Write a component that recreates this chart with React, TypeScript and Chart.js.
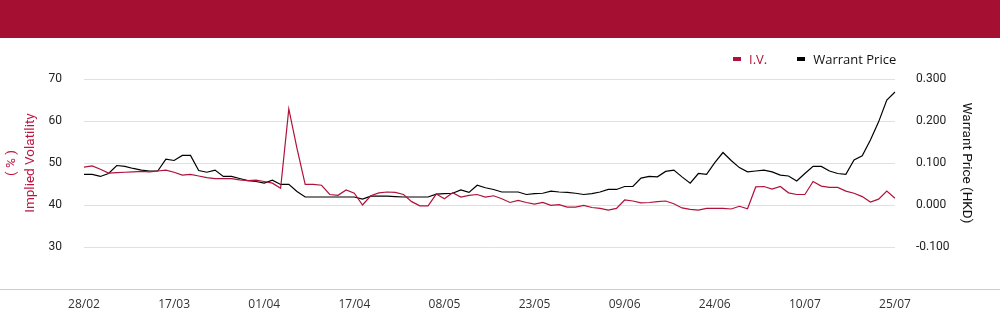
import React, { useEffect, useRef } from "react";
import { Chart, registerables } from "chart.js";

Chart.register(...registerables);

const dates: string[] = [
  "28/02", "03/03", "04/03", "05/03", "06/03", "07/03", "10/03", "11/03", "12/03", "13/03", "14/03",
  "17/03", "18/03", "19/03", "20/03", "21/03", "24/03", "25/03", "26/03", "27/03", "28/03", "31/03",
  "01/04", "02/04", "03/04", "07/04", "08/04", "09/04", "10/04", "11/04", "14/04", "15/04", "16/04",
  "17/04", "22/04", "23/04", "24/04", "25/04", "28/04", "29/04", "30/04", "02/05", "06/05", "07/05",
  "08/05", "09/05", "12/05", "13/05", "14/05", "15/05", "16/05", "19/05", "20/05", "21/05", "22/05",
  "23/05", "26/05", "27/05", "28/05", "29/05", "30/05", "02/06", "03/06", "04/06", "05/06", "06/06",
  "09/06", "10/06", "11/06", "12/06", "13/06", "16/06", "17/06", "18/06", "19/06", "20/06", "23/06",
  "24/06", "25/06", "26/06", "27/06", "30/06", "02/07", "03/07", "04/07", "07/07", "08/07", "09/07",
  "10/07", "11/07", "14/07", "15/07", "16/07", "17/07", "18/07", "21/07", "22/07", "23/07", "24/07",
  "25/07",
];

const impliedVolatility: number[] = [
  49.0, 49.3, 48.5, 47.6, 47.7, 47.8, 47.9, 48.0, 47.9, 48.1,
  48.3, 47.8, 47.1, 47.3, 46.9, 46.5, 46.3, 46.3, 46.3, 46.0,
  45.8, 45.9, 45.6, 45.2, 44.0, 62.9, 53.5, 44.9, 44.9, 44.7,
  42.5, 42.3, 43.6, 42.8, 40.0, 42.2, 42.9, 43.1, 43.0, 42.5,
  40.8, 39.8, 39.8, 42.6, 41.5, 42.9, 41.9, 42.3, 42.5, 41.9,
  42.2, 41.5, 40.6, 41.1, 40.6, 40.2, 40.6, 39.9, 40.1, 39.5,
  39.5, 39.9, 39.4, 39.2, 38.8, 39.2, 41.2, 40.95, 40.5, 40.6,
  40.8, 40.95, 40.3, 39.3, 38.97, 38.8, 39.2, 39.2, 39.2, 39.05,
  39.7, 39.1, 44.3, 44.4, 43.8, 44.4, 42.9, 42.5, 42.5, 45.6,
  44.5, 44.2, 44.2, 43.3, 42.8, 42.0, 40.7, 41.4, 43.3, 41.6,
];

const warrantPrice: number[] = [
  0.073, 0.073, 0.068, 0.075, 0.094, 0.092, 0.087, 0.083, 0.081, 0.081,
  0.109, 0.106, 0.118, 0.118, 0.082, 0.078, 0.083, 0.068, 0.068, 0.063,
  0.058, 0.056, 0.052, 0.059, 0.049, 0.049, 0.032, 0.019, 0.019, 0.019,
  0.019, 0.019, 0.019, 0.019, 0.014, 0.021, 0.021, 0.021, 0.020, 0.019,
  0.019, 0.019, 0.019, 0.026, 0.027, 0.028, 0.036, 0.030, 0.047, 0.041,
  0.037, 0.031, 0.031, 0.031, 0.025, 0.027, 0.028, 0.033, 0.031, 0.030,
  0.028, 0.025, 0.027, 0.031, 0.037, 0.037, 0.044, 0.044, 0.064, 0.068,
  0.067, 0.080, 0.083, 0.067, 0.052, 0.075, 0.073, 0.101, 0.125, 0.106,
  0.089, 0.079, 0.081, 0.083, 0.079, 0.071, 0.069, 0.057, 0.075, 0.092,
  0.092, 0.081, 0.075, 0.073, 0.107, 0.117, 0.155, 0.198, 0.250, 0.269,
];

const leftTicks: number[] = [30, 40, 50, 60, 70];
const rightTicks: number[] = [-0.1, 0, 0.1, 0.2, 0.3];
const labelEvery = 11;
const legendItems: { label: string; color: string; textColor: string }[] = [
  { label: "I.V.", color: "#AE1137", textColor: "#AE1137" },
  { label: "Warrant Price", color: "#000000", textColor: "#111111" },
];

const RED = "#B0123A";
const HEADER = "#A50F32";

const baselinePlugin = {
  id: "fullBaseline",
  afterDraw(chart: any) {
    const ctx = chart.ctx;
    const y = Math.round(chart.scales.y.getPixelForValue(20)) + 0.5;
    ctx.save();
    ctx.strokeStyle = "#cccccc";
    ctx.lineWidth = 1;
    ctx.beginPath();
    ctx.moveTo(0, y);
    ctx.lineTo(chart.width, y);
    ctx.stroke();
    ctx.restore();
  },
};

export default function App() {
  const canvasRef = useRef<HTMLCanvasElement>(null);

  useEffect(() => {
    document.body.style.margin = "0";
    const canvas = canvasRef.current;
    if (!canvas) return;
    const chart = new Chart(canvas, {
      type: "line",
      data: {
        labels: dates,
        datasets: [
          {
            label: "I.V.",
            data: impliedVolatility,
            borderColor: RED,
            backgroundColor: RED,
            borderWidth: 1.2,
            pointRadius: 0,
            tension: 0,
            yAxisID: "y",
          },
          {
            label: "Warrant Price",
            data: warrantPrice,
            borderColor: "#000000",
            backgroundColor: "#000000",
            borderWidth: 1.2,
            pointRadius: 0,
            tension: 0,
            yAxisID: "y1",
          },
        ],
      },
      options: {
        responsive: false,
        animation: false,
        layout: { padding: { top: 41, bottom: 0, left: 0, right: 0 } },
        plugins: {
          legend: { display: false },
          tooltip: { enabled: false },
        },
        scales: {
          x: {
            type: "category",
            grid: { display: false, drawTicks: false },
            border: { display: false },
            ticks: {
              autoSkip: false,
              maxRotation: 0,
              padding: 50,
              color: "#333333",
              font: { family: "'Open Sans', sans-serif", size: 12 },
              callback: (_v: any, i: number) => (i % labelEvery === 0 ? dates[i] : ""),
            },
            afterFit: (scale: any) => {
              scale.height = 77;
            },
          },
          y: {
            type: "linear",
            position: "left",
            min: 30,
            max: 70,
            afterBuildTicks: (scale: any) => {
              scale.ticks = leftTicks.map((v) => ({ value: v }));
            },
            grid: { color: "#e0e0e0", drawTicks: false },
            border: { display: false },
            ticks: {
              padding: 22,
              color: "#222222",
              font: { family: "Roboto, sans-serif", size: 12 },
            },
            title: {
              display: true,
              text: ["( % )", "Implied Volatility"],
              color: "#C0143F",
              font: { family: "Roboto, sans-serif", size: 13.5, lineHeight: 1.35 },
              padding: { top: 3, bottom: 0 },
            },
            afterFit: (scale: any) => {
              scale.width = 84;
            },
          },
          y1: {
            type: "linear",
            position: "right",
            min: -0.1,
            max: 0.3,
            afterBuildTicks: (scale: any) => {
              scale.ticks = rightTicks.map((v) => ({ value: v }));
            },
            grid: { drawOnChartArea: false, drawTicks: false },
            border: { display: false },
            ticks: {
              padding: 21,
              color: "#222222",
              font: { family: "Roboto, sans-serif", size: 12 },
              callback: (v: any) => Number(v).toFixed(3),
            },
            title: {
              display: true,
              text: "Warrant Price (HKD)",
              color: "#111111",
              font: { family: "Roboto, sans-serif", size: 13.5 },
              padding: { top: 26, bottom: 0 },
            },
            afterFit: (scale: any) => {
              scale.width = 105;
            },
          },
        },
      },
      plugins: [baselinePlugin],
    });
    return () => chart.destroy();
  }, []);

  return (
    <div style={{ width: 1000, height: 324, position: "relative", background: "#fff", overflow: "hidden" }}>
      <div style={{ height: 38, background: HEADER }} />
      <div
        style={{
          position: "absolute",
          top: 50,
          left: 733,
          height: 18,
          display: "flex",
          alignItems: "center",
          fontFamily: "'Open Sans', sans-serif",
          fontSize: 13,
        }}
      >
        {legendItems.map((it, i) => (
          <div key={it.label} style={{ display: "flex", alignItems: "center", marginRight: i === 0 ? 30 : 0 }}>
            <span style={{ display: "inline-block", width: 8, height: 4, background: it.color, marginRight: 8 }} />
            <span style={{ color: it.textColor, lineHeight: "18px" }}>{it.label}</span>
          </div>
        ))}
      </div>
      <canvas ref={canvasRef} width={1000} height={286} style={{ display: "block" }} />
    </div>
  );
}
